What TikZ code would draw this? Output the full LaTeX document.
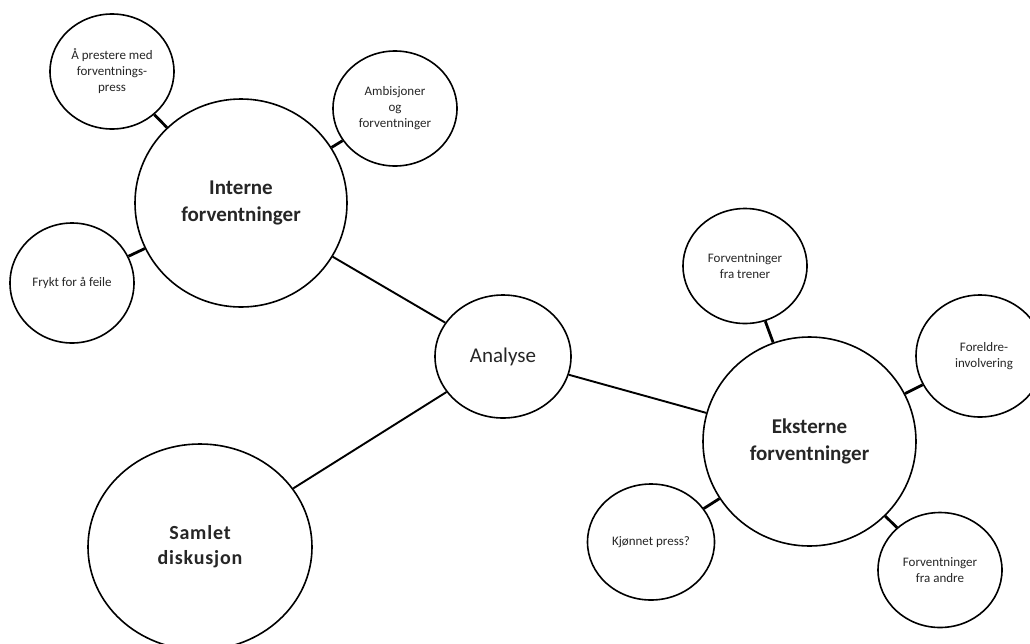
\documentclass[tikz,border=0pt]{standalone}
\usepackage{fontspec}
\setmainfont{Carlito}
\usetikzlibrary{shapes.geometric}
\begin{document}
\begin{tikzpicture}[x=1pt,y=-1pt,
  bub/.style={ellipse,draw,line width=1.6pt,inner sep=0pt,align=center,text=black!85,fill=white},
  small/.style={bub,minimum width=124pt,minimum height=115pt,font=\fontsize{13}{16}\selectfont},
  big/.style={bub,font=\fontsize{21}{27}\selectfont\bfseries},
  link/.style={line width=2.8pt},
  spoke/.style={line width=1.9pt}]
\useasboundingbox (0,0) rectangle (1030,643);
\clip (0,0) rectangle (1030,643);
% big circles
\node[big,minimum width=212pt,minimum height=208pt] (int) at (241,203) {Interne\\forventninger};
\node[big,minimum width=213pt,minimum height=209pt] (eks) at (809.5,441.5) {Eksterne\\forventninger};
\node[big,minimum width=224pt,minimum height=206pt,font=\fontsize{20}{25}\selectfont\bfseries\addfontfeatures{LetterSpace=4}] (sam) at (200,547) {Samlet\\diskusjon};
\node[bub,minimum width=136pt,minimum height=123pt,font=\fontsize{21}{25}\selectfont] (ana) at (503,356.5) {Analyse};
% small circles
\node[small] (pre) at (112,71.5) {Å prestere med\\forventnings-\\press};
\node[small] (amb) at (395,108.5) {Ambisjoner\\og\\forventninger};
\node[small,minimum height=120pt] (fry) at (72,283) {Frykt for å feile};
\node[small] (tre) at (745,266) {Forventninger\\fra trener};
\node[small,minimum width=128pt,minimum height=122pt] (for) at (980,356) {\hspace*{8pt}Foreldre-\\\hspace*{8pt}involvering};
\node[small,minimum width=127pt,minimum height=116pt] (kjo) at (651,542) {Kjønnet press?};
\node[small] (and) at (940,570) {Forventninger\\fra andre};
% spokes from Analyse
\draw[spoke] (ana) -- (int);
\draw[spoke] (ana) -- (eks);
\draw[spoke] (ana) -- (sam);
% short links
\draw[link] (pre) -- (int);
\draw[link] (amb) -- (int);
\draw[link] (fry) -- (int);
\draw[link] (tre) -- (eks);
\draw[link] (for) -- (eks);
\draw[link] (kjo) -- (eks);
\draw[link] (and) -- (eks);
\end{tikzpicture}
\end{document}
